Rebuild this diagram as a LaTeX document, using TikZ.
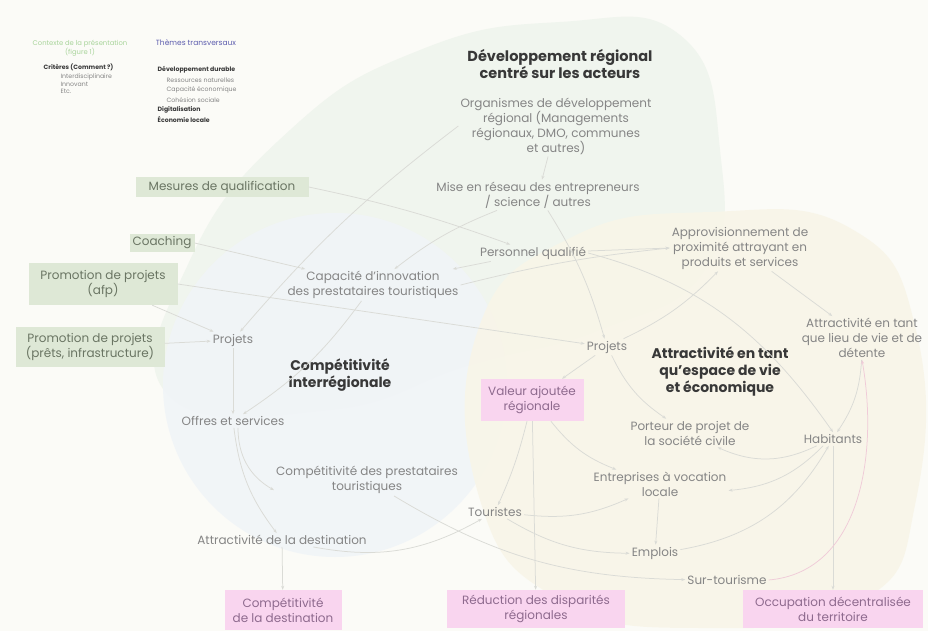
\documentclass[tikz,border=0pt]{standalone}
\usepackage{fontspec}
\setmainfont{Poppins}
\usepackage{xcolor}
\usetikzlibrary{arrows.meta, positioning}
\definecolor{paper}{HTML}{FBFBF7}
\definecolor{blobgreen}{HTML}{F0F5EE}
\definecolor{blobblue}{HTML}{F0F4F8}
\definecolor{blobyellow}{HTML}{F8F5E8}
\definecolor{levergreen}{HTML}{DEE8D6}
\definecolor{levertext}{HTML}{6A7563}
\definecolor{impactpink}{HTML}{F9D5EF}
\definecolor{impacttext}{HTML}{8E6A8E}
\definecolor{factortext}{HTML}{858585}
\definecolor{darktext}{HTML}{383838}
\definecolor{linkgrey}{HTML}{DADBD6}
\definecolor{negpink}{HTML}{F0CBD8}
\definecolor{ctxgreen}{HTML}{A8D49A}
\definecolor{themeblue}{HTML}{5D5DAE}

\begin{document}
\begin{tikzpicture}[
  x=1pt, y=-1pt,
  every node/.style={font=\fontsize{12}{15}\selectfont},
  factor/.style={align=center, text=factortext, inner sep=2pt},
  theme/.style={align=center, text=darktext, inner sep=2pt, font=\bfseries\fontsize{14}{17}\selectfont},
  lever/.style={rectangle, fill=levergreen, text=levertext, align=center, inner sep=2pt},
  impact/.style={rectangle, fill=impactpink, text=impacttext, align=center, inner sep=2pt},
  legitem/.style={anchor=west, inner sep=0.5pt, text=factortext, font=\fontsize{6.2}{7.5}\selectfont},
  legbold/.style={legitem, text=darktext, font=\bfseries\fontsize{6.2}{7.5}\selectfont},
  link/.style={-{Stealth[length=4pt, width=3pt]}, line width=0.75pt, color=linkgrey},
  negative/.style={link, color=negpink}
]

% === BACKGROUND: paper and the three fields ===
\useasboundingbox (0,0) rectangle (928,631);
\fill[paper] (0,0) rectangle (928,631);
\fill[blobgreen] plot[smooth cycle, tension=0.8] coordinates {
  (168,395) (190,260) (290,130) (420,50) (560,22) (680,35) (720,150) (705,270) (600,330) (470,365) (330,410)};
\fill[blobblue, opacity=0.85] (335,385) circle[radius=172];
\fill[blobyellow, opacity=0.9] plot[smooth cycle, tension=0.8] coordinates {
  (478,330) (570,238) (710,212) (850,228) (916,330) (916,500) (860,602) (700,628) (560,600) (480,500)};

% === LEGEND (top left) ===
\node[legitem, anchor=center, align=center, text=ctxgreen, font=\fontsize{6.8}{8}\selectfont] (ctx) at (80,48) {Contexte de la présentation\\(figure 1)};
\node[legbold] (crit) at (43,67) {Critères (Comment ?)};
\foreach \txt [count=\i] in {Interdisciplinaire, Innovant, Etc.}
  \node[legitem] (crit\i) at (60,69+7.5*\i) {\txt};

\node[legitem, anchor=center, text=themeblue, font=\fontsize{7.5}{9}\selectfont] (themes) at (196,43) {Thèmes transversaux};
\node[legbold] (durable) at (157,70) {Développement durable};
\foreach \txt [count=\i] in {Ressources naturelles, Capacité économique, Cohésion sociale}
  \node[legitem] (durable\i) at (166,70+10*\i) {\txt};
\node[legbold] (digital) at (157,110) {Digitalisation};
\node[legbold] (ecolocal) at (157,120) {Économie locale};

% === FIELD 1: Développement régional ===
\node[theme, font=\bfseries\fontsize{14.5}{16.5}\selectfont] (devreg) at (560,64) {Développement régional\\centré sur les acteurs};
\node[factor] (orgdev) at (556,126) {Organismes de développement\\régional (Managements\\régionaux, DMO, communes\\et autres)};
\node[factor] (reseau) at (538,195) {Mise en réseau des entrepreneurs\\/ science / autres};
\node[factor] (perso) at (533,253) {Personnel qualifié};
\node[factor] (capinno) at (373,285) {Capacité d'innovation\\des prestataires touristiques};

% levers (green)
\node[lever, minimum width=173pt, minimum height=20pt] (qualif) at (222,187) {Mesures de qualification};
\node[lever, minimum width=65pt, minimum height=18pt] (coaching) at (162,243) {Coaching};
\node[lever, minimum width=149pt, minimum height=42pt] (promafp) at (103,284) {Promotion de projets\\(afp)};
\node[lever, minimum width=149pt, minimum height=40pt] (promprets) at (90,347) {Promotion de projets\\(prêts, infrastructure)};

% === FIELD 2: Compétitivité interrégionale ===
\node[factor] (projL) at (233,340) {Projets};
\node[theme] (compinter) at (340,375) {Compétitivité\\interrégionale};
\node[factor] (offres) at (233,421) {Offres et services};
\node[factor] (compprest) at (367,480) {Compétitivité des prestataires\\touristiques};
\node[factor] (attrdest) at (282,540) {Attractivité de la destination};
\node[factor] (touristes) at (495,512) {Touristes};

% === FIELD 3: Attractivité ===
\node[factor] (approv) at (740,248) {Approvisionnement de\\proximité attrayant en\\produits et services};
\node[factor] (attrvie) at (862,338) {Attractivité en tant\\que lieu de vie et de\\détente};
\node[factor] (projR) at (607,347) {Projets};
\node[theme] (attreco) at (720,372) {Attractivité en tant\\qu'espace de vie\\et économique};
\node[factor] (porteur) at (690,433) {Porteur de projet de\\la société civile};
\node[factor] (habit) at (833,439) {Habitants};
\node[factor] (entrep) at (660,484) {Entreprises à vocation\\locale};
\node[factor] (emplois) at (655,553) {Emplois};
\node[factor] (surtour) at (727,580) {Sur-tourisme};

% impacts (pink)
\node[impact, minimum width=103pt, minimum height=42pt] (valeur) at (532,400) {Valeur ajoutée\\régionale};
\node[impact, minimum width=117pt, minimum height=40pt] (compdest) at (283,610) {Compétitivité\\de la destination};
\node[impact, minimum width=178pt, minimum height=38pt] (reduc) at (536,609) {Réduction des disparités\\régionales};
\node[impact, minimum width=180pt, minimum height=38pt] (occup) at (833,609) {Occupation décentralisée\\du territoire};

% === LINKS ===
\draw[link] (orgdev) -- (reseau);
\draw[link] (orgdev.west) to[bend right=6] (projL);
\draw[link] (reseau) to[bend right=8] (capinno);
\draw[link] (reseau) to[bend left=8] (projR);
\draw[link] (perso) -- (capinno);
\draw[link] (qualif.east) to[bend left=4] (perso);
\draw[link] (coaching.east) -- (capinno);
\draw[link] (promafp.east) -- (projR);
\draw[link] (promafp) -- (projL);
\draw[link] (promprets) -- (projL);
\draw[link] (capinno.east) to[bend left=4] (approv.west);
\draw[link] (perso) -- (approv.west);
\draw[link] (perso.east) to[out=-15, in=125] (habit.north);
\draw[link] (capinno) to[bend left=10] (offres);

\draw[link] (projL) -- (offres);
\draw[link] (offres) to[bend right=30] (compprest);
\draw[link] (offres) to[bend right=15] (attrdest);
\draw[link] (attrdest) -- (compdest);
\draw[link] (attrdest) to[bend right=20] (touristes);
\draw[link] (compprest) to[bend right=15] (surtour);

\draw[link] (projR) to[bend right=10] (approv);
\draw[link] (projR) -- (valeur);
\draw[link] (projR) to[bend right=15] (porteur);
\draw[link] (approv) -- (attrvie);
\draw[link] (attrvie) to[bend left=15] (habit);
\draw[link] (habit) to[bend left=25] (porteur);
\draw[link] (habit) to[bend left=20] (entrep);
\draw[link] (habit) -- (occup);
\draw[link] (entrep) -- (emplois);
\draw[link] (emplois) to[bend right=25] (habit);
\draw[link] (valeur) to[bend right=15] (entrep);
\draw[link] (valeur) -- (reduc);
\draw[link] (valeur) to[bend left=5] (touristes);
\draw[link] (touristes) to[bend right=15] (entrep);
\draw[link] (touristes) to[bend right=15] (emplois);
\draw[negative] (surtour.east) to[out=5, in=-80] (attrvie.south);

\end{tikzpicture}
\end{document}
